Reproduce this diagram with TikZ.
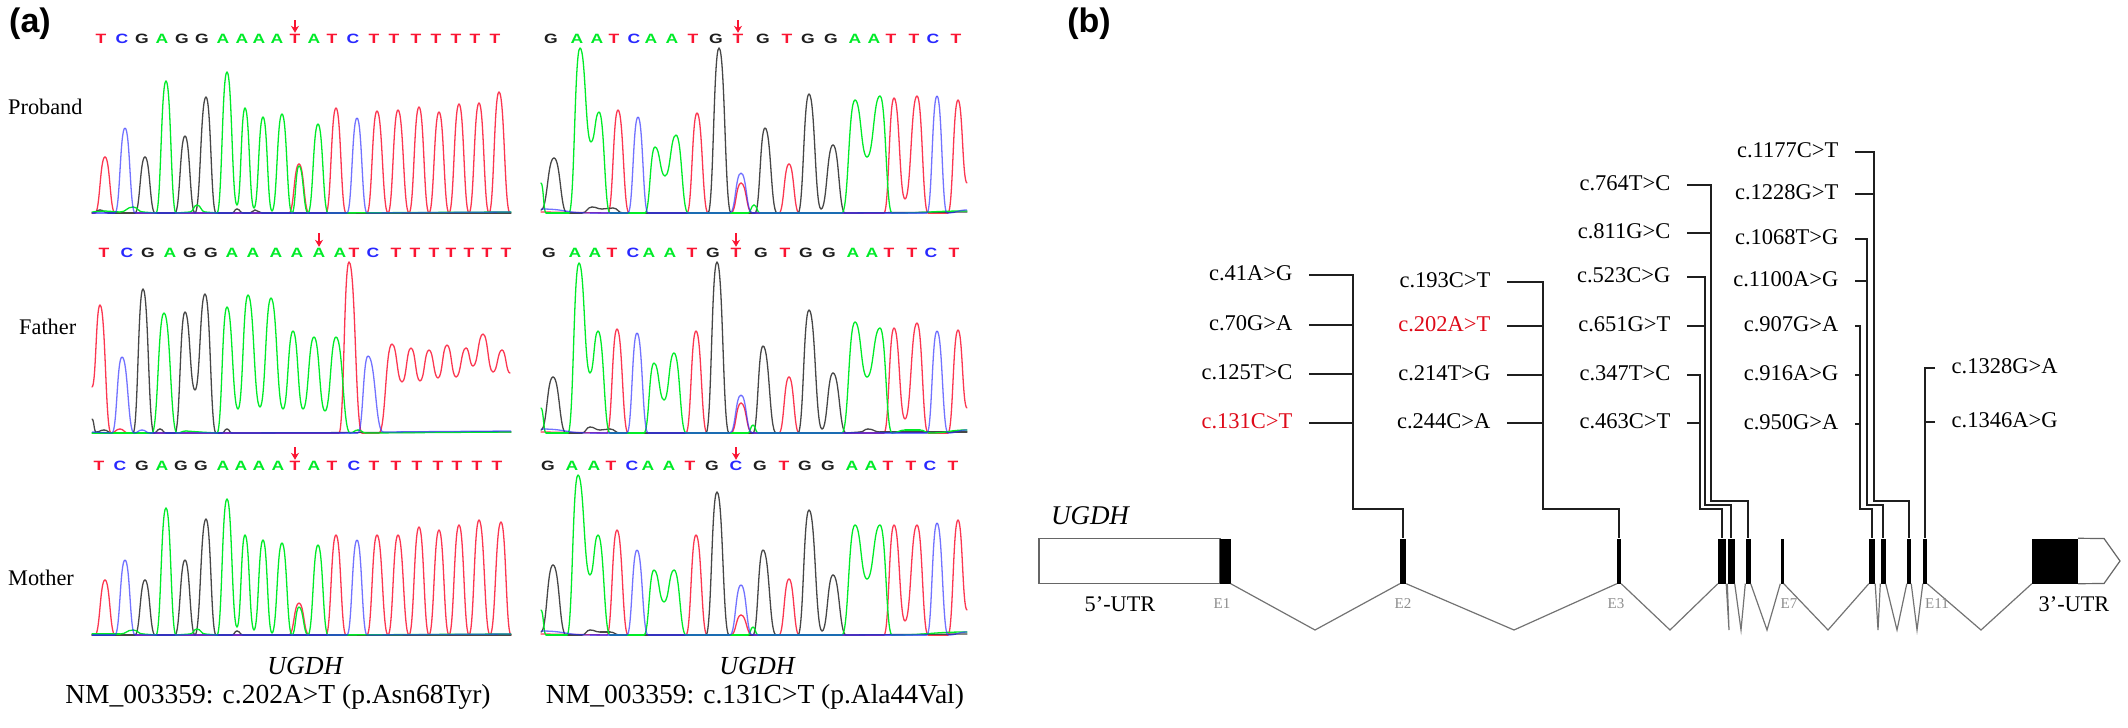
\documentclass[tikz,border=0pt]{standalone}
\usepackage{fontspec}
\setmainfont{Liberation Serif}
\newfontfamily\panelfont{Liberation Sans}
\newfontfamily\basefont{Liberation Sans}[FakeStretch=1.3]
\usetikzlibrary{arrows.meta}
\definecolor{baseA}{RGB}{0,235,40}
\definecolor{baseC}{RGB}{40,40,255}
\definecolor{baseG}{RGB}{30,30,30}
\definecolor{baseT}{RGB}{250,20,50}
\definecolor{mutred}{RGB}{222,10,25}
\tikzset{
    baseletter/.style={font=\basefont\bfseries\fontsize{13.5}{15}\selectfont, inner sep=0pt, text height=10pt, text depth=0pt},
    peakline/.style={line width=1.3pt, line cap=round},
    chanA/.style={peakline, color=baseA},
    chanC/.style={peakline, line cap=butt, color=baseC, opacity=.65},
    chanG/.style={peakline, color=black!72},
    chanT/.style={peakline, color=baseT!85!white},
    mutarrow/.style={-{Stealth[length=7pt,width=8pt]}, line width=2pt, color=baseT},
    txt/.style={font=\fontsize{22.3}{26}\selectfont, inner sep=0pt},
    captxt/.style={font=\fontsize{27.5}{30}\selectfont, inner sep=0pt},
    panel/.style={font=\panelfont\bfseries\fontsize{34}{36}\selectfont, inner sep=0pt},
    varlabel/.style={font=\fontsize{22.5}{26}\selectfont, inner ysep=0pt, inner xsep=16.5pt, text height=15pt, text depth=4pt},
    stem/.style={line width=2pt, color=black!88},
    exon/.style={fill=black, draw=none, inner sep=0pt, minimum height=45pt},
    intron/.style={line width=1.2pt, color=black!55},
    exonname/.style={font=\fontsize{15}{17}\selectfont, inner sep=0pt, text=black!45},
    utrbox/.style={draw=black!60, line width=1.2pt, fill=white, inner sep=0pt, minimum height=45pt},
}
% one channel of a trace: x/height of its peaks and valleys
\newcommand{\trace}[3]{%
    \foreach \px/\ph [count=\i, remember=\px as \qx (initially 0), remember=\ph as \qh (initially 0)] in {#3} {
        \ifnum\i>1
            \draw[#1] (\qx,#2-\qh) .. controls ({(\qx+\px)/2},#2-\qh) and ({(\qx+\px)/2},#2-\ph) .. (\px,#2-\ph);
        \fi
    }
}
\newcommand{\seqrow}[3]{%
    \foreach \lx/\ch in {#3}
        \node[baseletter, text=base\ch] (#1-\lx) at (\lx,#2) {\ch};
}
\begin{document}
\begin{tikzpicture}[x=1pt, y=-1pt]
    \useasboundingbox (0,0) rectangle (2128,728);

    % Panel letters and row names
    \node[panel] (pa) at (30,24) {(a)};
    \node[panel] (pb) at (1089,24) {(b)};
    \node[txt, anchor=west] (proband) at (8,107) {Proband};
    \node[txt, anchor=west] (father) at (19,327) {Father};
    \node[txt, anchor=west] (mother) at (8,578) {Mother};

    % Base calls
    \seqrow{sa}{38}{101/T,122/C,142/G,162/A,182/G,202/G,223/A,242/A,259/A,277/A,295/T,314/A,332/T,353/C,374/T,394/T,416/T,436/T,456/T,475/T,495/T}
    \seqrow{sb}{252}{104/T,127/C,148/G,170/A,190/G,211/G,232/A,253/A,276/A,297/A,319/A,340/A,354/T,373/C,396/T,415/T,434/T,451/T,469/T,487/T,506/T}
    \seqrow{sc}{465}{99/T,120/C,142/G,162/A,181/G,201/G,223/A,241/A,259/A,278/A,295/T,314/A,332/T,354/C,374/T,396/T,417/T,438/T,457/T,477/T,497/T}
    \seqrow{sd}{38}{551/G,577/A,597/A,614/T,634/C,651/A,672/A,693/T,716/G,738/T,763/G,787/T,808/G,831/G,855/A,874/A,891/T,914/T,933/C,956/T}
    \seqrow{se}{252}{549/G,575/A,595/A,612/T,633/C,649/A,670/A,692/T,713/G,736/T,761/G,785/T,806/G,829/G,853/A,872/A,889/T,912/T,931/C,954/T}
    \seqrow{sf}{465}{548/G,572/A,594/A,611/T,632/C,648/A,669/A,690/T,712/G,736/C,760/G,784/T,805/G,828/G,852/A,871/A,888/T,911/T,930/C,953/T}

    % Arrows on the changed bases
    \coordinate (ma) at (295,20);
    \coordinate (mb) at (319,233);
    \coordinate (mc) at (295,447);
    \coordinate (md) at (738,20);
    \coordinate (me) at (736,233);
    \coordinate (mf) at (736,447);
    \draw[mutarrow] (ma) -- (sa-295.north);
    \draw[mutarrow] (mb) -- (sb-319.north);
    \draw[mutarrow] (mc) -- (sc-295.north);
    \draw[mutarrow] (md) -- (sd-738.north);
    \draw[mutarrow] (me) -- (se-736.north);
    \draw[mutarrow] (mf) -- (sf-736.north);

    % Proband, left
    \trace{chanT}{213}{92/0,95/0,105/56,115/0,289/0,299/49,309/0,326/0,336/105,346/0,367/0,377/102,388/0,398/103,409/0,419/106,429/0,439/101,449/0,459/109,469/0,479/110,489/0,499/121,510/0}
    \trace{chanG}{213}{92/0,100/3,108/0,135/0,145/56,155/0,175/0,185/77,195/0,206/116,216/0,232/0,237/4,243/0,250/0,255/3,262/0,511/0}
    \trace{chanA}{213}{92/1,105/2,120/1,133/6,143/1,156/0,166/132,176/0,190/1,197/8,205/1,217/0,227/141,237/8,245/105,254/5,263/96,272/2,282/99,292/0,299/47,308/0,318/89,328/0,511/1}
    \trace{chanC}{213}{92/0,115/0,125/85,135/0,347/0,357/95,367/0,511/1}
    % Father, left
    \trace{chanT}{433}{92/46,100/128,111/0,120/4,128/0,339/0,349/171,362/0,379/0,392/89,402/51,411/85,420/52,429/83,438/55,447/88,456/56,466/85,473/67,483/99,493/61,502/83,510/60}
    \trace{chanG}{433}{92/14,96/1,104/3,112/0,133/0,143/144,154/0,160/4,166/0,175/0,185/121,195/43,205/139,216/0,222/0,227/4,232/0,511/1}
    \trace{chanA}{433}{92/0,152/0,164/120,177/0,186/2,200/1,217/0,227/126,238/24,248/138,260/26,271/135,283/24,293/102,303/24,314/96,325/22,336/96,350/0,358/3,366/0,511/1}
    \trace{chanC}{433}{92/1,112/0,122/76,134/0,142/3,150/0,358/0,368/77,383/1,511/2}
    % Mother, left
    \trace{chanT}{635}{92/0,95/0,105/55,115/0,289/0,299/32,309/0,326/0,336/100,346/0,367/0,377/100,388/0,398/100,409/0,419/108,429/0,439/105,449/0,459/110,469/0,479/115,490/0,501/113,511/0}
    \trace{chanG}{635}{92/0,135/0,145/55,155/0,175/0,185/75,195/0,206/116,216/0,232/0,237/4,243/0,511/0}
    \trace{chanA}{635}{92/1,120/1,133/5,143/1,156/0,166/127,176/0,190/1,197/6,205/1,217/0,227/136,237/8,245/100,254/5,263/95,272/2,282/92,292/0,299/28,308/0,318/90,328/0,511/1}
    \trace{chanC}{635}{92/0,115/0,125/75,135/0,347/0,357/95,367/0,511/1}

    % Proband, right
    \trace{chanT}{213}{541/1,608/0,618/103,629/0,687/0,697/100,708/0,731/0,741/30,752/0,779/0,789/49,799/0,884/0,894/115,905/14,917/117,928/0,948/0,958/113,967/30}
    \trace{chanG}{213}{541/3,554/55,567/0,582/0,592/6,602/4,613/5,623/0,708/0,719/165,731/0,755/0,765/85,777/0,798/0,809/119,821/4,833/68,845/0,967/1}
    \trace{chanA}{213}{541/30,546/0,569/0,580/165,591/71,599/101,610/0,645/0,655/66,665/37,676/78,688/0,748/0,754/8,760/0,842/0,855/113,867/56,880/117,892/0,967/2}
    \trace{chanC}{213}{541/4,590/0,628/0,638/96,648/0,730/0,741/40,752/0,927/0,937/117,947/0,967/3}
    % Father, right
    \trace{chanT}{433}{541/1,607/0,617/104,628/0,686/0,696/102,707/0,731/0,741/30,752/0,779/0,789/56,799/0,884/0,894/105,905/14,917/110,928/0,948/0,958/103,967/25}
    \trace{chanG}{433}{541/3,553/56,566/0,582/0,590/6,600/3,610/4,620/0,706/0,717/171,729/0,753/0,763/87,776/0,798/0,809/123,822/4,833/60,846/0,860/1,868/4,880/1,967/1}
    \trace{chanA}{433}{541/25,546/0,568/0,579/170,590/60,598/102,610/0,644/0,654/70,664/33,674/80,686/0,748/0,753/8,758/0,842/0,855/111,867/56,880/105,892/0,905/3,920/3,930/0,967/3}
    \trace{chanC}{433}{541/4,590/0,627/0,637/100,648/0,730/0,741/38,752/0,927/0,937/102,948/0,967/3}
    % Mother, right
    \trace{chanT}{635}{541/1,607/0,617/105,628/0,686/0,696/100,707/0,731/0,741/20,752/0,779/0,789/56,799/0,884/0,894/110,905/14,917/110,928/0,948/0,958/115,967/25}
    \trace{chanG}{635}{541/3,553/70,566/0,582/0,590/5,600/3,610/3,620/0,706/0,717/143,729/0,753/0,763/85,776/0,798/0,809/125,822/4,833/60,846/0,967/1}
    \trace{chanA}{635}{541/25,546/0,567/0,578/160,590/60,598/100,610/0,644/0,654/65,664/33,674/65,686/0,748/0,753/8,758/0,842/0,855/110,867/56,880/110,892/0,967/3}
    \trace{chanC}{635}{541/4,590/0,627/0,637/85,648/0,730/0,741/50,752/0,927/0,937/112,948/0,967/3}

    % Captions
    \node[captxt, font=\itshape\fontsize{26}{30}\selectfont] (capa) at (305,666) {UGDH};
    \node[captxt] (capb) at (278,697) {NM\_003359: c.202A>T (p.Asn68Tyr)};
    \node[captxt, font=\itshape\fontsize{26}{30}\selectfont] (capc) at (757,666) {UGDH};
    \node[captxt] (capd) at (755,697) {NM\_003359: c.131C>T (p.Ala44Val)};

    % Gene
    \node[txt, font=\itshape\fontsize{27}{30}\selectfont] (gene) at (1090,516) {UGDH};
    \node[utrbox, minimum width=181pt] (utrl) at (1129.5,561) {};
    \node[exon, minimum width=11pt] (e1) at (1225,561) {};
    \node[exon, minimum width=6pt] (e2) at (1403,561) {};
    \node[exon, minimum width=4pt] (e3) at (1619,561) {};
    \node[exon, minimum width=8pt] (e4) at (1722,561) {};
    \node[exon, minimum width=7pt] (e5) at (1731,561) {};
    \node[exon, minimum width=5pt] (e6) at (1748,561) {};
    \node[exon, minimum width=3pt] (e7) at (1782,561) {};
    \node[exon, minimum width=6pt] (e8) at (1872,561) {};
    \node[exon, minimum width=5pt] (e9) at (1883,561) {};
    \node[exon, minimum width=4pt] (e10) at (1909,561) {};
    \node[exon, minimum width=4pt] (e11) at (1925,561) {};
    \node[exon, minimum width=46pt] (utrr) at (2055,561) {};
    \draw[utrbox] (utrr.north east) -- (2104,538.5) -- (2120,561) -- (2104,583.5) -- (utrr.south east);

    % Introns
    \foreach \a/\b/\mx in {e1/e2/1315,e2/e3/1514,e3/e4/1670,e4/e5/1729,e5/e6/1741,e6/e7/1767,e7/e8/1828,e8/e9/1878,e9/e10/1897,e10/e11/1917,e11/utrr/1981} {
        \coordinate (v\a) at (\mx,630);
        \draw[intron] (\a.south east) -- (v\a) -- (\b.south west);
    }

    \node[txt] (utrfive) at (1120,604) {5’-UTR};
    \node[txt] (utrthree) at (2074,604) {3’-UTR};
    \node[exonname] (ne1) at (1222,604) {E1};
    \node[exonname] (ne2) at (1403,604) {E2};
    \node[exonname] (ne3) at (1616,604) {E3};
    \node[exonname] (ne7) at (1789,604) {E7};
    \node[exonname] (ne11) at (1937,604) {E11};

    % Variants to E2
    \coordinate (b2) at (1353,509);
    \node[varlabel, anchor=east] (c41) at (1309,275) {c.41A>G};
    \node[varlabel, anchor=east] (c70) at (1309,325) {c.70G>A};
    \node[varlabel, anchor=east] (c125) at (1309,374) {c.125T>C};
    \node[varlabel, anchor=east, text=mutred] (c131) at (1309,423) {c.131C>T};
    \draw[stem] (c41.east) -| (b2) -| (e2.north);
    \foreach \v in {c70,c125,c131}
        \draw[stem] (\v.east) -- (\v.east -| b2);

    % Variants to E3
    \coordinate (b3) at (1543,509);
    \node[varlabel, anchor=east] (c193) at (1507,282) {c.193C>T};
    \node[varlabel, anchor=east, text=mutred] (c202) at (1507,326) {c.202A>T};
    \node[varlabel, anchor=east] (c214) at (1507,375) {c.214T>G};
    \node[varlabel, anchor=east] (c244) at (1507,423) {c.244C>A};
    \draw[stem] (c193.east) -| (b3) -| (e3.north);
    \foreach \v in {c202,c214,c244}
        \draw[stem] (\v.east) -- (\v.east -| b3);

    % Variants to E4, E5, E6
    \coordinate (b4) at (1700,509);
    \coordinate (b5) at (1705,505);
    \coordinate (b6) at (1711,501);
    \node[varlabel, anchor=east] (c764) at (1687,185) {c.764T>C};
    \node[varlabel, anchor=east] (c811) at (1687,233) {c.811G>C};
    \node[varlabel, anchor=east] (c523) at (1687,277) {c.523C>G};
    \node[varlabel, anchor=east] (c651) at (1687,326) {c.651G>T};
    \node[varlabel, anchor=east] (c347) at (1687,375) {c.347T>C};
    \node[varlabel, anchor=east] (c463) at (1687,423) {c.463C>T};
    \draw[stem] (c347.east) -| (b4) -| (e4.north);
    \draw[stem] (c463.east) -- (c463.east -| b4);
    \draw[stem] (c523.east) -| (b5) -| (e5.north);
    \draw[stem] (c651.east) -- (c651.east -| b5);
    \draw[stem] (c764.east) -| (b6) -| (e6.north);
    \draw[stem] (c811.east) -- (c811.east -| b6);

    % Variants to E8, E9, E10
    \coordinate (b8) at (1860,509);
    \coordinate (b9) at (1867,505);
    \coordinate (b10) at (1874,501);
    \node[varlabel, anchor=east] (c1177) at (1855,152) {c.1177C>T};
    \node[varlabel, anchor=east] (c1228) at (1855,194) {c.1228G>T};
    \node[varlabel, anchor=east] (c1068) at (1855,239) {c.1068T>G};
    \node[varlabel, anchor=east] (c1100) at (1855,281) {c.1100A>G};
    \node[varlabel, anchor=east] (c907) at (1855,326) {c.907G>A};
    \node[varlabel, anchor=east] (c916) at (1855,375) {c.916A>G};
    \node[varlabel, anchor=east] (c950) at (1855,424) {c.950G>A};
    \draw[stem] (c907.east) -| (b8) -| (e8.north);
    \foreach \v in {c916,c950}
        \draw[stem] (\v.east) -- (\v.east -| b8);
    \draw[stem] (c1068.east) -| (b9) -| (e9.north);
    \draw[stem] (c1100.east) -- (c1100.east -| b9);
    \draw[stem] (c1177.east) -| (b10) -| (e10.north);
    \draw[stem] (c1228.east) -- (c1228.east -| b10);

    % Variants to E11
    \node[varlabel, anchor=west] (c1328) at (1935,368) {c.1328G>A};
    \node[varlabel, anchor=west] (c1346) at (1935,422) {c.1346A>G};
    \draw[stem] (c1328.west) -| (e11.north);
    \draw[stem] (c1346.west) -- (c1346.west -| e11.north);
\end{tikzpicture}
\end{document}
